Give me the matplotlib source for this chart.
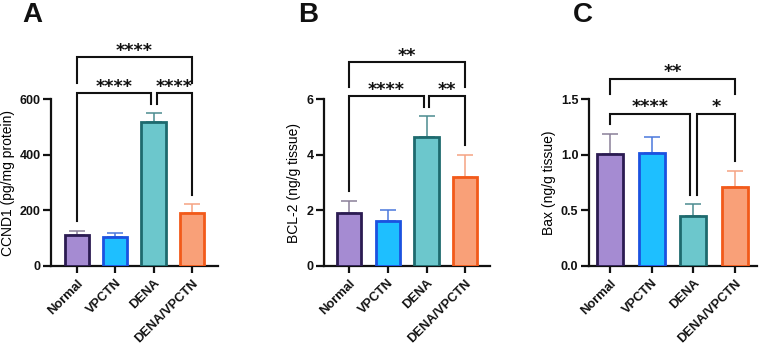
import numpy as np
import matplotlib
matplotlib.use("Agg")
import matplotlib.pyplot as plt

# ---------------- data ----------------
groups = ["Normal", "VPCTN", "DENA", "DENA/VPCTN"]

ccnd1_mean = [112, 105, 520, 190]
ccnd1_err = [14, 13, 29, 32]

bcl2_mean = [1.90, 1.63, 4.63, 3.20]
bcl2_err = [0.45, 0.40, 0.76, 0.80]

bax_mean = [1.01, 1.02, 0.45, 0.71]
bax_err = [0.18, 0.145, 0.105, 0.145]

# significance pairs: (group i, group j, label)
ccnd1_sig = [(0, 2, "****"), (2, 3, "****"), (0, 3, "****")]
bcl2_sig = [(0, 2, "****"), (2, 3, "**"), (0, 3, "**")]
bax_sig = [(0, 2, "****"), (2, 3, "*"), (0, 3, "**")]

# ---------------- style ----------------
fills = ["#a58bd2", "#1ebfff", "#6cc7cc", "#f9a078"]
edges = ["#2b1b52", "#1b52e0", "#1e6a6e", "#f25a1a"]
errc = ["#8a8098", "#4a78dc", "#4b8b90", "#f5a383"]
FONT = "Liberation Sans"
plt.rcParams["font.family"] = [FONT, "DejaVu Sans"]

W, H = 759, 344
fig = plt.figure(figsize=(W / 100, H / 100), dpi=100)

def fx(px):
    return px / W

def fy(py):
    return 1 - py / H

panels = [
    dict(letter="A", mean=ccnd1_mean, err=ccnd1_err, sig=ccnd1_sig,
         left=51, right=218, ymax=600, yticks=[0, 200, 400, 600],
         yfmt="{:.0f}", ylabel="CCND1 (pg/mg protein)", xl=(-0.67, 3.68),
         labx=-0.216, letter_x=32, top_gap=10.6, top_h=25.4, doff=3),
    dict(letter="B", mean=bcl2_mean, err=bcl2_err, sig=bcl2_sig,
         left=324, right=490, ymax=6, yticks=[0, 2, 4, 6],
         yfmt="{:.0f}", ylabel="BCL-2 (ng/g tissue)", xl=(-0.65, 3.64),
         labx=-0.137, letter_x=308, top_gap=9.7, top_h=24.3, doff=2.5),
    dict(letter="C", mean=bax_mean, err=bax_err, sig=bax_sig,
         left=588.7, right=756.7, ymax=1.5, yticks=[0, 0.5, 1.0, 1.5],
         yfmt="{:.1f}", ylabel="Bax (ng/g tissue)", xl=(-0.51, 3.52),
         labx=-0.195, letter_x=583, top_gap=20, top_h=15, doff=3.5),
]

top_px, bot_px = 99.3, 266.0
lw_br = 1.5

for p in panels:
    ax = fig.add_axes([fx(p["left"]), fy(bot_px), fx(p["right"] - p["left"]),
                       (bot_px - top_px) / H])
    x = np.arange(len(groups))
    mean = np.array(p["mean"])
    err = np.array(p["err"])
    ax.bar(x, mean, width=0.63, color=fills, edgecolor=edges, linewidth=2.0,
           zorder=3)
    for i in range(len(groups)):
        ax.errorbar(x[i], mean[i], yerr=[[0], [err[i]]], fmt="none",
                    ecolor=errc[i], elinewidth=1.1, capsize=5.5,
                    capthick=1.1, zorder=2)
    ax.set_xlim(*p["xl"])
    ax.set_ylim(0, p["ymax"])
    ax.set_yticks(p["yticks"])
    ax.set_yticklabels([p["yfmt"].format(v) for v in p["yticks"]],
                       fontweight="bold", fontsize=9)
    ax.set_xticks(x)
    ax.set_xticklabels(groups, rotation=45, ha="right", va="top",
                       rotation_mode="anchor", fontweight="bold", fontsize=9.3)
    for s in ["top", "right"]:
        ax.spines[s].set_visible(False)
    for s in ["left", "bottom"]:
        ax.spines[s].set_linewidth(1.6)
        ax.spines[s].set_color("#111111")
    ax.tick_params(axis="both", length=5, width=1.6, color="#111111",
                   labelcolor="#111111", pad=2)
    ax.tick_params(axis="y", length=6, pad=1.5)
    ax.tick_params(axis="x", pad=3)
    ax.set_ylabel(p["ylabel"], fontsize=10)
    ax.yaxis.set_label_coords(p["labx"], 0.5)

    # significance brackets
    u = p["ymax"] / (bot_px - top_px)          # data units per pixel
    dx = p["doff"] / ((p["right"] - p["left"]) / (p["xl"][1] - p["xl"][0]))
    tops = mean + err
    leg_bot = tops + 9.5 * u
    lower = [s for s in p["sig"] if not (s[0] == 0 and s[1] == 3)]
    upper = [s for s in p["sig"] if (s[0] == 0 and s[1] == 3)]
    y_low = max(max(leg_bot[a], leg_bot[b]) for a, b, _ in lower) + 10.5 * u
    for a, b, lab in lower:
        xa = x[a] + (dx if a == 2 else 0)
        xb = x[b] - (dx if b == 2 else 0)
        ax.plot([xa, xa, xb, xb], [leg_bot[a], y_low, y_low, leg_bot[b]],
                color="#111111", lw=lw_br, clip_on=False, zorder=4,
                solid_joinstyle="miter")
        ax.annotate(lab, xy=((xa + xb) / 2, y_low), xytext=(0, 1.0),
                    textcoords="offset points", ha="center", va="baseline",
                    fontsize=12.5, fontweight="bold", family="DejaVu Sans",
                    annotation_clip=False, color="#111111")
    for a, b, lab in upper:
        yl = y_low + p["top_gap"] * u
        yt = yl + p["top_h"] * u
        ax.plot([x[a], x[a], x[b], x[b]], [yl, yt, yt, yl],
                color="#111111", lw=lw_br, clip_on=False, zorder=4,
                solid_joinstyle="miter")
        ax.annotate(lab, xy=((x[a] + x[b]) / 2, yt), xytext=(0, 1.0),
                    textcoords="offset points", ha="center", va="baseline",
                    fontsize=12.5, fontweight="bold", family="DejaVu Sans",
                    annotation_clip=False, color="#111111")

    fig.text(fx(p["letter_x"]), fy(15), p["letter"], fontsize=20,
             fontweight="bold", ha="center", va="center", color="#111111")

fig.savefig("out.png", dpi=100)
